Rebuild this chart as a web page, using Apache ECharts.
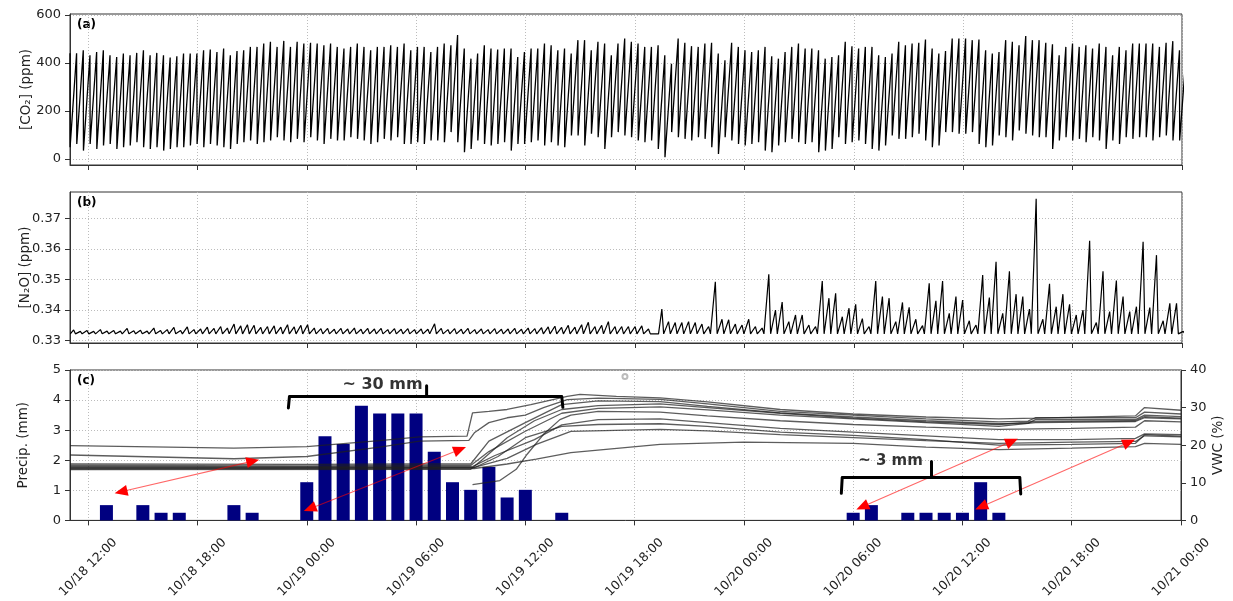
<!DOCTYPE html>
<html><head><meta charset="utf-8">
<script src="https://cdn.jsdelivr.net/npm/echarts@6/dist/echarts.min.js"></script>
<style>html,body{margin:0;padding:0;background:#fff}#c{width:1233px;height:601px}</style>
</head><body><div id="c"></div>
<script>
// ---------- DATA (time = hours since 10/18 00:00) ----------
const xStartHour = 11, xEndHour = 72;
const tickHours = [12,18,24,30,36,42,48,54,60,66,72];
const tickLabels = ['10/18 12:00','10/18 18:00','10/19 00:00','10/19 06:00','10/19 12:00','10/19 18:00','10/20 00:00','10/20 06:00','10/20 12:00','10/20 18:00','10/21 00:00'];

// chamber measurement cycles (one per 22 min)
const cycleStartHour = 11.0;
const cycleMinutes = 22;
const co2Initial = 440;
const co2Peak = [440,453,432,446,453,432,425,439,432,442, 453,432,442,432,423,428,439,439,439,453, 456,446,460,432,450,453,467,467,481,488, 467,492,467,488,481,484,481,474,481,467, 460,467,481,467,453,467,467,474,467,481,
 453,467,467,446,467,481,474,516,460,418, 439,474,460,456,460,460,425,446,460,460, 481,474,453,460,439,495,495,453,488,481, 432,481,502,488,481,467,467,474,432,397, 502,484,470,467,481,484,439,411,484,467, 453,446,453,467,428,418,446,467,481,460, 460,453,
 418,425,432,488,470,460,467,467,432,425, 439,488,474,481,484,498,460,439,450,502, 502,502,495,498,453,439,446,495,488,474, 512,495,495,484,478,432,467,481,467,474, 460,481,467,432,467,453,481,481,481,481, 467,484,491,453,440];
const co2Trough = [49,63,35,63,42,56,63,42,49,56, 70,49,42,49,35,42,49,49,56,63, 49,63,56,49,42,63,70,77,63,70, 77,91,77,70,84,70,91,77,63,84, 77,77,91,84,77,63,70,84,77,91,
 63,63,70,63,77,77,70,112,70,28, 42,77,63,56,63,70,35,63,63,70, 77,56,70,56,49,98,98,56,105,91, 42,91,112,98,91,77,70,77,42,7, 112,91,84,77,91,84,49,21,91,77, 63,56,63,70,35,28,56,70,84,70, 63,70,
 28,35,42,91,63,70,77,63,42,35, 56,98,84,84,91,105,77,49,56,112, 112,105,105,112,63,49,56,98,91,77, 119,105,98,91,91,42,77,91,77,84, 70,91,77,42,77,63,91,84,91,91, 77,91,98,77,77];

const n2oBaseline = 0.3322;
const n2oPeak = [0.3335,0.3330,0.3333,0.3330,0.3336,0.3331,0.3333,0.3331,0.3340,0.3332,
 0.3334,0.3331,0.3341,0.3333,0.3336,0.3343,0.3333,0.3345,0.3336,0.3338,
 0.3344,0.3340,0.3346,0.3341,0.3354,0.3348,0.3352,0.3350,0.3343,0.3346,
 0.3348,0.3344,0.3352,0.3345,0.3350,0.3352,0.3341,0.3339,0.3340,0.3337,
 0.3340,0.3338,0.3341,0.3337,0.3340,0.3338,0.3340,0.3336,0.3339,0.3337,
 0.3339,0.3336,0.3338,0.3337,0.3355,0.3340,0.3336,0.3339,0.3337,0.3340,
 0.3336,0.3338,0.3336,0.3339,0.3337,0.3338,0.3340,0.3337,0.3341,0.3339,
 0.3342,0.3345,0.3347,0.3343,0.3350,0.3344,0.3352,0.3360,0.3346,0.3350,
 0.3362,0.3346,0.3346,0.3346,0.3346,0.3348,0.3338,0.3322,
 0.3403,0.3362,0.3359,0.3359,0.3362,0.3359,0.3354,0.3346,
 0.3493,0.3370,0.3368,0.3354,0.3351,0.3370,0.3346,0.3341,
 0.3517,0.3400,0.3426,0.3362,0.3384,0.3384,0.3351,0.3346,
 0.3495,0.3439,0.3455,0.3378,0.3406,0.3419,0.3372,0.3346,
 0.3495,0.3444,0.3439,0.3362,0.3425,0.3409,0.3370,0.3349,
 0.3488,0.3430,0.3495,0.3389,0.3444,0.3433,0.3365,0.3351,
 0.3515,0.3441,0.3558,0.3389,0.3527,0.3452,0.3444,0.3403,
 0.3765,0.3370,0.3486,0.3411,0.3452,0.3419,0.3384,0.3400,
 0.3627,0.3359,0.3527,0.3395,0.3497,0.3444,0.3395,0.3411,
 0.3624,0.3408,0.3580,0.3365,0.3422,0.3422,0.3330];

const precipHours = [13,15,16,17,20,21, 24,25,26,27,28,29,30,31,32,33,34,35,36,38, 54,55,57,58,59,60,61,62];
const precipMm = [0.508,0.508,0.254,0.254,0.508,0.254, 1.27,2.794,2.54,3.81,3.556,3.556,3.556,2.286,1.27,1.016,1.778,0.762,1.016,0.254, 0.254,0.508,0.254,0.254,0.254,0.254,1.27,0.254];

// soil volumetric water content, [hour, %]
const vwc1 = [[11,19.9],[20,19.2],[24,19.6],[28,21.2],[30.2,22.2],[32.8,22.4],[33.1,28.6],[34,29],[35,29.5],[36.3,30.8],[38.3,33],[39,33.5],[41,33],[43.4,32.6],[46,31.5],[50,29.5],[54,28.3],[58,27.5],[62,27],[64,27.2],[69.5,27.8],[70,30],[72,29.3]];
const vwc2 = [[11,17.4],[20,16.4],[24,17],[28,19.5],[30.2,21.1],[32.9,21.3],[33.2,23.3],[34,26],[35,27.3],[36,28],[37,30],[38.3,32.1],[40,32.5],[43.4,32.2],[46,31],[50,29],[54,28],[58,27],[62,26.2],[63.6,26.4],[64,27.3],[69.5,27.3],[70,28.8],[72,28.3]];
const vwc3 = [[11,15.0],[24,14.9],[30,15],[33,15],[34,21.1],[36,26],[38,30.8],[40,31.8],[43.4,31.6],[46,30.3],[50,28.6],[54,27.5],[58,26.5],[62,25.7],[63.6,25.8],[64,26.8],[69.5,26.8],[70,28],[72,27.6]];
const vwc4 = [[11,14.6],[24,14.5],[30,14.6],[33,14.6],[34,18.3],[36,23.7],[38,28.5],[40,29.8],[43.4,30.2],[46,29.4],[50,28],[54,27],[58,26],[62,25],[64,26],[69.5,26.3],[70,27.3],[72,27]];
const vwc5 = [[11,14.3],[33.1,14.3],[34.3,17.2],[36.5,21.5],[38,25.4],[40,26.8],[43.4,27],[46,26],[50,24.5],[54,23.5],[58,22.5],[62,21.5],[66,21.5],[69.5,21.8],[70,23],[72,22.8]];
const vwc6 = [[11,14.0],[33.2,14.1],[35,16.5],[36.6,20.2],[38.5,23.7],[43.4,24.2],[46,23.8],[50,22.8],[54,22],[58,21.2],[62,20.5],[66,20.8],[69.5,21],[70,22.5],[72,22.2]];
const vwc7 = [[11,13.7],[33.2,13.8],[35,15],[36.6,16.3],[38.5,18],[43.4,20.2],[48,20.8],[54,20.5],[58,19.5],[62,18.8],[66,19.2],[69.5,19.6],[70,20.5],[72,20.2]];
const vwc8 = [[33.1,9.5],[34.6,10.6],[35.5,13.6],[36.1,17.6],[37,22.9],[37.9,26.8],[38.5,28],[40,29],[43.4,28.8],[46,27.8],[50,26.5],[54,25.5],[58,24.8],[62,24.2],[66,24.5],[69.5,24.8],[70,26.5],[72,26.2]];
const vwc9 = [[11,13.5],[33.0,13.6],[33.6,16],[35,22],[36.5,26.5],[38,29.5],[40,30.5],[43.4,31],[46,30],[50,28.5],[54,27.2],[58,26.2],[62,25.5],[64,26.3],[69.5,26.5],[70,27.6],[72,27.2]];
const vwc10 = [[11,13.9],[33.2,14.0],[34.5,17],[36,22],[38,25],[40,25.5],[43.4,25.7],[46,25],[50,23.5],[54,22.6],[58,21.5],[62,20],[66,20.2],[69.5,20.5],[70,22.8],[72,22.4]];
const vwcLines = [vwc1,vwc2,vwc3,vwc4,vwc5,vwc6,vwc7,vwc8,vwc9,vwc10];

// annotations (hour, precip mm)
const brace30 = [[22.99,3.74],[23.05,4.12],[30.58,4.12],[30.58,4.48],[30.58,4.12],[38.0,4.12],[38.06,3.76]];
const brace3 = [[53.35,0.9],[53.4,1.43],[58.3,1.43],[58.3,1.96],[58.3,1.43],[63.15,1.43],[63.2,0.88]];
const braceText = [{pos:[28.16,4.52], text:'~ 30 mm', size:16},{pos:[56.05,1.98], text:'~ 3 mm', size:15}];
const arrows = [[[13.8,0.95],[21.04,1.97]],[[24.17,0.39],[32.41,2.36]],[[54.5,0.45],[62.72,2.63]],[[61.03,0.45],[69.15,2.6]]];

// ---------- BUILD ----------
const co2Data = [[cycleStartHour, co2Initial]];
co2Peak.forEach((p, i) => {
  const t0 = cycleStartHour + i * cycleMinutes / 60;
  co2Data.push([t0 + 0.3 / 60, co2Trough[i]]);
  co2Data.push([t0 + (cycleMinutes - 0.3) / 60, p]);
});
const n2oData = [];
n2oPeak.forEach((p, i) => {
  const t0 = cycleStartHour + i * cycleMinutes / 60;
  n2oData.push([t0 + 1 / 60, n2oBaseline]);
  n2oData.push([t0 + 12 / 60, p]);
  n2oData.push([t0 + 18 / 60, n2oBaseline]);
});

const FONT = 'DejaVu Sans';
const TXT = '#222';
const gridLine = {show: true, lineStyle: {color: '#bcbcbc', width: 1, type: [1, 2]}};

function labelFor(v) {
  let best = 0;
  tickHours.forEach((h, i) => { if (Math.abs(h - v) < Math.abs(tickHours[best] - v)) best = i; });
  return tickLabels[best];
}
function xAx(gi, show) {
  return {
    type: 'value', gridIndex: gi, min: xStartHour, max: xEndHour,
    axisLine: {show: true, onZero: false, lineStyle: {color: '#333', width: 1}},
    axisTick: {show: true, inside: false, length: 5, customValues: tickHours, lineStyle: {color: '#333'}},
    axisLabel: {show: show, customValues: tickHours, formatter: labelFor, rotate: 45, align: 'center',
      verticalAlign: 'middle', margin: 47, fontSize: 12.5, color: TXT, fontFamily: FONT,
      showMinLabel: true, showMaxLabel: true, hideOverlap: false},
    splitLine: gridLine
  };
}
function yAx(gi, o) {
  return Object.assign({
    type: 'value', gridIndex: gi, nameLocation: 'middle', nameRotate: 90, nameMoveOverlap: false,
    nameTextStyle: {fontSize: 13.5, color: TXT, fontFamily: FONT},
    axisLine: {show: true, lineStyle: {color: '#333'}},
    axisTick: {show: true, inside: false, length: 5, lineStyle: {color: '#333'}},
    axisLabel: {margin: 9, fontSize: 13, color: TXT, fontFamily: FONT},
    splitLine: gridLine
  }, o);
}

const co2Ticks = [0, 200, 400, 600];
const n2oTicks = [0.33, 0.34, 0.35, 0.36, 0.37];

const series = [
  {type: 'line', xAxisIndex: 0, yAxisIndex: 0, data: co2Data, showSymbol: false, symbol: 'none',
   lineStyle: {color: '#000', width: 1.3}, silent: true},
  {type: 'line', xAxisIndex: 1, yAxisIndex: 1, data: n2oData, showSymbol: false, symbol: 'none',
   lineStyle: {color: '#000', width: 1.2}, silent: true},
  {type: 'bar', xAxisIndex: 2, yAxisIndex: 2, data: precipHours.map((h, i) => [h, precipMm[i]]),
   barWidth: 13, itemStyle: {color: '#000080'}, z: 2, silent: true}
];
vwcLines.forEach(d => series.push({
  type: 'line', xAxisIndex: 2, yAxisIndex: 3, data: d, showSymbol: false, symbol: 'none', z: 3,
  lineStyle: {color: 'rgba(30,30,30,0.72)', width: 1.3}, silent: true
}));
[brace30, brace3].forEach(d => series.push({
  type: 'line', xAxisIndex: 2, yAxisIndex: 2, data: d, showSymbol: false, symbol: 'none', z: 5,
  lineStyle: {color: '#000', width: 3, join: 'round', cap: 'round'}, silent: true
}));
series.push({
  type: 'scatter', xAxisIndex: 2, yAxisIndex: 2, symbolSize: 1, z: 6, silent: true,
  itemStyle: {color: 'rgba(0,0,0,0)'},
  data: braceText.map(b => ({value: b.pos, label: {show: true, position: 'inside', formatter: b.text,
    fontSize: b.size, fontWeight: 'bold', color: '#000', fontFamily: FONT}}))
});
series.push({
  type: 'scatter', xAxisIndex: 2, yAxisIndex: 2, symbol: 'emptyCircle', symbolSize: 5, z: 6, silent: true,
  itemStyle: {color: '#aaa', borderColor: '#aaa', borderWidth: 1}, data: [[41.47, 4.78]]
});
// arrow shafts (semi-transparent red)
series.push({
  type: 'line', xAxisIndex: 2, yAxisIndex: 2, data: [], z: 7, silent: true,
  markLine: {silent: true, animation: false, symbol: ['none', 'none'],
    lineStyle: {color: 'rgba(255,0,0,0.6)', width: 1.1, type: 'solid'}, label: {show: false},
    emphasis: {disabled: true},
    data: arrows.map(a => [{coord: a[0]}, {coord: a[1]}])}
});
// arrow heads (solid red, shaft hidden)
series.push({
  type: 'line', xAxisIndex: 2, yAxisIndex: 2, data: [], z: 8, silent: true,
  markLine: {silent: true, animation: false, symbol: ['triangle', 'triangle'], symbolSize: [11, 13],
    lineStyle: {color: '#ff0000', width: 1, type: [0, 2000]}, label: {show: false},
    emphasis: {disabled: true},
    data: arrows.map(a => [{coord: a[0]}, {coord: a[1]}])}
});

const gridBase = {left: 70, width: 1112, show: true, borderColor: '#333', borderWidth: 1, backgroundColor: 'transparent'};
const option = {
  animation: false,
  backgroundColor: '#fff',
  grid: [
    Object.assign({top: 14, height: 151}, gridBase),
    Object.assign({top: 192, height: 151}, gridBase),
    Object.assign({top: 370, height: 152}, gridBase)
  ],
  xAxis: [xAx(0, false), xAx(1, false), xAx(2, true)],
  yAxis: [
    yAx(0, {min: -25, max: 604, name: '[CO₂] (ppm)', nameGap: 37,
      axisTick: {show: true, length: 5, customValues: co2Ticks, lineStyle: {color: '#333'}},
      axisLabel: {customValues: co2Ticks, margin: 9, fontSize: 13, color: TXT, fontFamily: FONT}}),
    yAx(1, {min: 0.3292, max: 0.3787, name: '[N₂O] (ppm)', nameGap: 38,
      axisTick: {show: true, length: 5, customValues: n2oTicks, lineStyle: {color: '#333'}},
      axisLabel: {customValues: n2oTicks, margin: 9, fontSize: 13, color: TXT, fontFamily: FONT,
        formatter: v => v.toFixed(2)}}),
    yAx(2, {min: 0, max: 5, interval: 1, name: 'Precip. (mm)', nameGap: 40}),
    yAx(2, {min: 0, max: 40, interval: 10, position: 'right', name: 'VWC (%)', nameGap: 30,
      splitLine: {show: false}})
  ],
  graphic: [
    {type: 'text', left: 77, top: 19, style: {text: '(a)', font: 'bold 12px "DejaVu Sans"', fill: '#000'}},
    {type: 'text', left: 77, top: 197, style: {text: '(b)', font: 'bold 12px "DejaVu Sans"', fill: '#000'}},
    {type: 'text', left: 77, top: 375, style: {text: '(c)', font: 'bold 12px "DejaVu Sans"', fill: '#000'}}
  ],
  series: series
};
const chart = echarts.init(document.getElementById('c'), null, {renderer: 'canvas'});
chart.setOption(option);
</script></body></html>
